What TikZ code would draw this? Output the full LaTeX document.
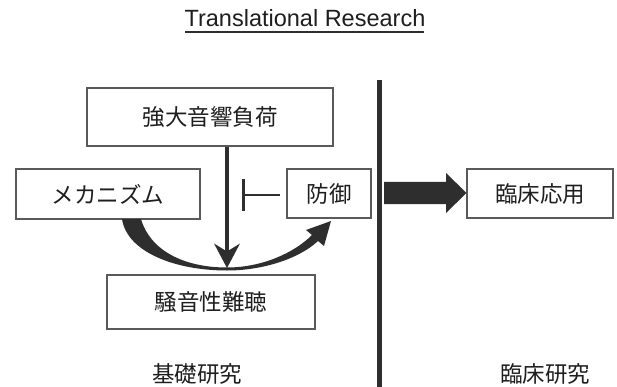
\documentclass[tikz,border=0pt]{standalone}
\usepackage{fontspec}
\setmainfont{Liberation Sans}
\newfontfamily\jp{Noto Sans CJK JP}
\usetikzlibrary{arrows.meta}
\definecolor{ink}{HTML}{1E1E1E}
\definecolor{boxline}{HTML}{5A5A5A}
\definecolor{dark}{HTML}{2E2E2E}
\tikzset{
  jpbox/.style={draw=boxline, line width=1.1pt, rectangle, inner sep=0pt, text=ink,
    font=\jp\fontsize{22.5}{26}\selectfont},
  jplabel/.style={inner sep=0pt, text=ink, font=\jp\fontsize{22.5}{26}\selectfont},
  conn/.style={draw=dark, line width=3.6pt},
}
\begin{document}
\begin{tikzpicture}[x=1pt,y=-1pt]
\useasboundingbox (0,0) rectangle (617,387);
\fill[white] (0,0) rectangle (617,387);
% title
\node[anchor=base, inner sep=0pt, text=ink, font=\fontsize{23.5}{27}\selectfont] (title) at (305,26.5) {Translational Research};
\coordinate (ulA) at (185,32);
\coordinate (ulB) at (424,32);
\draw[draw=dark, line width=1.6pt] (ulA) -- (ulB);
% separator
\coordinate (sepT) at (379.5,80);
\coordinate (sepB) at (379.5,387);
\draw[draw=dark, line width=4.8pt] (sepT) -- (sepB);
% boxes
\node[jpbox, minimum width=246pt, minimum height=58pt] (load) at (210,117) {強大音響負荷};
\node[jpbox, minimum width=184pt, minimum height=50pt] (mech) at (108,194) {メカニズム};
\node[jpbox, minimum width=84pt, minimum height=49pt] (def) at (329,193.5) {防御};
\node[jpbox, minimum width=146pt, minimum height=49pt] (clin) at (540,193.5) {臨床応用};
\node[jpbox, minimum width=208pt, minimum height=54pt] (noise) at (211,302) {騒音性難聴};
% labels
\node[jplabel] (basic) at (197,374) {基礎研究};
\node[jplabel] (clinres) at (545,374) {臨床研究};
% vertical arrow
\coordinate (tip) at (227,268);
\coordinate (hb) at (227,254);
\draw[conn] (load.south -| tip) -- (hb);
\fill[dark] (tip) -- (214,243.5) -- (227,251.5) -- (240,243.5) -- cycle;
% inhibition
\coordinate (inhS) at (280,195);
\coordinate (inhE) at (242,195);
\draw[draw=dark, line width=2.8pt, -{Bar[width=31pt, line width=3pt]}] (inhS) -- (inhE);
% crescent arrow
\fill[dark] (122,219) .. controls (127,252) and (175,270.5) .. (227,270.5)
  .. controls (264,270.5) and (300,258) .. (318,241)
  -- (324,246) -- (331,221) -- (306,230) -- (312,235)
  .. controls (294,253) and (262,267.5) .. (227,267.5)
  .. controls (183,267.5) and (150,250) .. (141,219) -- cycle;
% big arrow
\fill[dark] (384,182) -- (446,182) -- (446,173) -- (466.5,193) -- (446,213) -- (446,204) -- (384,204) -- cycle;
\end{tikzpicture}
\end{document}
